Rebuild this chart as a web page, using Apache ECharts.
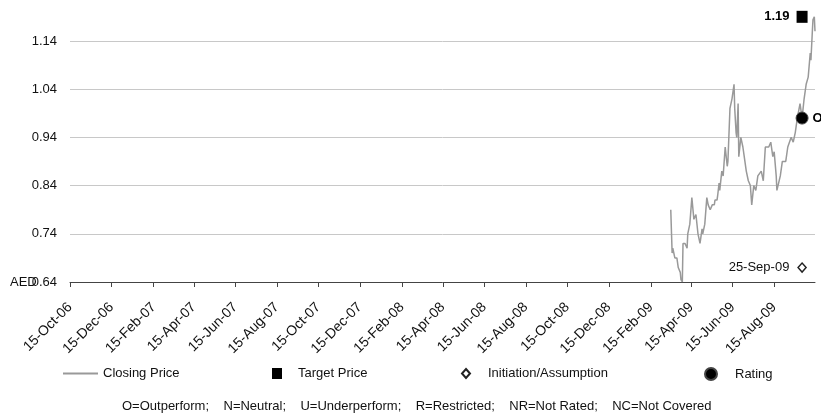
<!DOCTYPE html>
<html>
<head>
<meta charset="utf-8">
<script src="https://cdn.jsdelivr.net/npm/echarts@6/dist/echarts.min.js"></script>
<style>
html, body { margin: 0; padding: 0; background: #fff; }
#chart { width: 821px; height: 416px; }
</style>
</head>
<body>
<div id="chart"></div>
<script>
// closing price
var priceDates = [
  '2009-03-16', '2009-03-18', '2009-03-19', '2009-03-22', '2009-03-25', '2009-03-27', '2009-03-30', '2009-03-31',
  '2009-04-02', '2009-04-03', '2009-04-06', '2009-04-09', '2009-04-10', '2009-04-13', '2009-04-16', '2009-04-19',
  '2009-04-22', '2009-04-25', '2009-04-28', '2009-05-01', '2009-05-02', '2009-05-05', '2009-05-08', '2009-05-10',
  '2009-05-13', '2009-05-16', '2009-05-19', '2009-05-20', '2009-05-23', '2009-05-24', '2009-05-26', '2009-05-27',
  '2009-05-30', '2009-06-01', '2009-06-04', '2009-06-07', '2009-06-08', '2009-06-11', '2009-06-14', '2009-06-17',
  '2009-06-18', '2009-06-20', '2009-06-21', '2009-06-23', '2009-06-24', '2009-06-27', '2009-06-30', '2009-07-02',
  '2009-07-05', '2009-07-08', '2009-07-11', '2009-07-13', '2009-07-16', '2009-07-19', '2009-07-22', '2009-07-27',
  '2009-07-30', '2009-08-02', '2009-08-04', '2009-08-07', '2009-08-10', '2009-08-13', '2009-08-15', '2009-08-18',
  '2009-08-19', '2009-08-21', '2009-08-24', '2009-08-27', '2009-08-29', '2009-09-01', '2009-09-04', '2009-09-09',
  '2009-09-12', '2009-09-15', '2009-09-18', '2009-09-19', '2009-09-22', '2009-09-25', '2009-09-28', '2009-10-01',
  '2009-10-04', '2009-10-07', '2009-10-08', '2009-10-10', '2009-10-11', '2009-10-13', '2009-10-14'
];
var priceValues = [
  0.79, 0.70, 0.71, 0.69, 0.69, 0.67, 0.66, 0.645,
  0.64, 0.72, 0.72, 0.71, 0.74, 0.76, 0.815, 0.77,
  0.78, 0.74, 0.72, 0.75, 0.74, 0.76, 0.815, 0.80,
  0.79, 0.80, 0.80, 0.81, 0.81, 0.82, 0.845, 0.83,
  0.87, 0.86, 0.92, 0.88, 0.89, 1.00, 1.02, 1.05,
  1.00, 0.95, 0.94, 1.01, 0.90, 0.94, 0.92, 0.90,
  0.87, 0.85, 0.84, 0.80, 0.84, 0.83, 0.86, 0.87,
  0.85, 0.92, 0.92, 0.92, 0.93, 0.90, 0.91, 0.86,
  0.83, 0.83, 0.86, 0.89, 0.89, 0.89, 0.92, 0.94,
  0.93, 0.95, 0.98, 0.98, 1.01, 0.98, 1.02, 1.05,
  1.065, 1.115, 1.10, 1.157, 1.184, 1.19, 1.16
];

var tickDates = [
  '2006-10-15', '2006-12-15', '2007-02-15', '2007-04-15', '2007-06-15', '2007-08-15',
  '2007-10-15', '2007-12-15', '2008-02-15', '2008-04-15', '2008-06-15', '2008-08-15',
  '2008-10-15', '2008-12-15', '2009-02-15', '2009-04-15', '2009-06-15', '2009-08-15'
];
var axisStart = '2006-10-15';
var axisEnd = '2009-10-14';

var yMin = 0.64;
var yMax = 1.2;
var yStep = 0.1;

var eventDate = '2009-09-25';
var eventLabel = '25-Sep-09';
var targetPrice = 1.19;
var ratingLevel = 0.98;
var ratingCode = 'O';
var initiationLevel = 0.67;

var footnote = 'O=Outperform;    N=Neutral;    U=Underperform;    R=Restricted;    NR=Not Rated;    NC=Not Covered';

var MONTHS = ['Jan', 'Feb', 'Mar', 'Apr', 'May', 'Jun', 'Jul', 'Aug', 'Sep', 'Oct', 'Nov', 'Dec'];
var FONT = '"Liberation Sans", Arial, sans-serif';
var TEXT = '#111';

function toTime(s) {
  var p = s.split('-');
  return new Date(+p[0], +p[1] - 1, +p[2]).getTime();
}
function fmtDate(t) {
  var d = new Date(t);
  return d.getDate() + '-' + MONTHS[d.getMonth()] + '-' + String(d.getFullYear()).slice(2);
}

var priceData = priceDates.map(function (d, i) { return [toTime(d), priceValues[i]]; });
var tickTimes = tickDates.map(toTime);

var chart = echarts.init(document.getElementById('chart'));

chart.setOption({
  animation: false,
  textStyle: { fontFamily: FONT, fontSize: 13, color: TEXT },
  grid: { left: 70, right: 6, top: 12, bottom: 134 },
  title: {
    text: footnote,
    left: 122,
    top: 400,
    padding: 0,
    textStyle: { fontFamily: FONT, fontSize: 13, fontWeight: 'normal', color: TEXT }
  },
  graphic: [{
    type: 'text',
    left: 10,
    top: 276,
    style: { text: 'AED', font: '13px ' + FONT, fill: TEXT }
  }],
  legend: [
    { data: ['Closing Price'], left: 63, top: 367, padding: 0, icon: 'rect', itemWidth: 35, itemHeight: 2,
      textStyle: { fontFamily: FONT, fontSize: 13, color: TEXT } },
    { data: ['Target Price'], left: 272, top: 367, padding: 0, itemWidth: 10, itemHeight: 11,
      textStyle: { fontFamily: FONT, fontSize: 13, color: TEXT, padding: [0, 0, 0, 11] } },
    { data: ['Initiation/Assumption'], left: 461, top: 367, padding: 0, itemWidth: 8, itemHeight: 9,
      textStyle: { fontFamily: FONT, fontSize: 13, color: TEXT, padding: [0, 0, 0, 13] } },
    { data: ['Rating'], left: 704, top: 367, padding: 0, itemWidth: 12, itemHeight: 12,
      textStyle: { fontFamily: FONT, fontSize: 13, color: TEXT, padding: [0, 0, 0, 13] } }
  ],
  xAxis: {
    type: 'value',
    min: toTime(axisStart),
    max: toTime(axisEnd),
    splitLine: { show: false },
    axisLine: { lineStyle: { color: '#444', width: 1 } },
    axisTick: { show: true, length: 5, lineStyle: { color: '#444' }, customValues: tickTimes },
    axisLabel: {
      customValues: tickTimes,
      rotate: 45,
      margin: 23,
      fontFamily: FONT,
      fontSize: 14,
      color: TEXT,
      formatter: function (v) { return fmtDate(v); }
    }
  },
  yAxis: {
    type: 'value',
    min: yMin,
    max: yMax,
    interval: yStep,
    axisLine: { show: false },
    axisTick: { show: false },
    splitLine: { showMaxLine: false, lineStyle: { color: '#c8c8c8', width: 1 } },
    axisLabel: {
      margin: 13,
      showMaxLabel: false,
      fontFamily: FONT,
      fontSize: 13,
      color: TEXT,
      formatter: function (v) { return v.toFixed(2); }
    }
  },
  series: [
    {
      name: 'Closing Price',
      type: 'line',
      data: priceData,
      showSymbol: false,
      symbol: 'none',
      color: '#999999',
      lineStyle: { color: '#999999', width: 1.5 },
      z: 2
    },
    {
      name: 'Target Price',
      type: 'scatter',
      symbol: 'rect',
      symbolSize: [11, 12],
      itemStyle: { color: '#000', opacity: 1 },
      data: [[toTime(eventDate), targetPrice]],
      label: {
        show: true, position: 'left', distance: 7, formatter: String(targetPrice),
        fontFamily: FONT, fontSize: 13, fontWeight: 'bold', color: '#000'
      },
      z: 3
    },
    {
      name: 'Initiation/Assumption',
      type: 'scatter',
      symbol: 'diamond',
      symbolSize: [8, 9],
      itemStyle: { color: '#fff', borderColor: '#222', borderWidth: 1.5, opacity: 1 },
      data: [[toTime(eventDate), initiationLevel]],
      label: {
        show: true, position: 'left', distance: 8, formatter: eventLabel,
        fontFamily: FONT, fontSize: 13, color: TEXT
      },
      z: 3
    },
    {
      name: 'Rating',
      type: 'scatter',
      symbol: 'circle',
      symbolSize: 12,
      itemStyle: { color: '#000', borderColor: '#444', borderWidth: 1, opacity: 1 },
      data: [[toTime(eventDate), ratingLevel]],
      label: {
        show: true, position: 'right', distance: 4, formatter: ratingCode,
        fontFamily: FONT, fontSize: 13, fontWeight: 'bold', color: '#000'
      },
      z: 4
    }
  ]
});
</script>
</body>
</html>
